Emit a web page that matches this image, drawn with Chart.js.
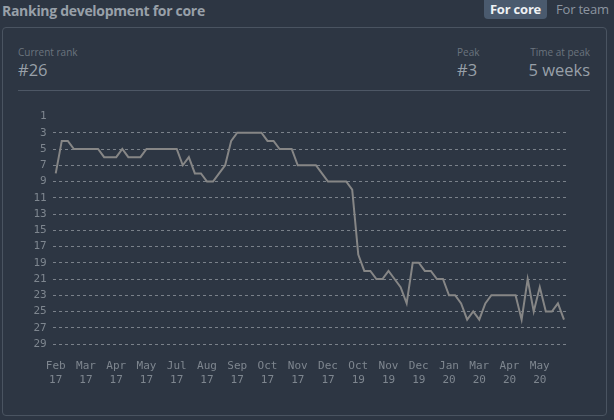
<!DOCTYPE html>
<html>
<head>
<meta charset="utf-8">
<script src="https://cdn.jsdelivr.net/npm/chart.js@4.4.1/dist/chart.umd.min.js"></script>
<style>
  html, body { margin: 0; padding: 0; }
  body {
    width: 614px; height: 420px; overflow: hidden; position: relative;
    background: #2d3643; font-family: "Open Sans", sans-serif;
  }
  .title {
    position: absolute; left: 2px; top: 1px;
    font-size: 14px; font-weight: 700; color: #98a0a9; letter-spacing: -0.3px;
  }
  .tab {
    position: absolute; top: 0; height: 19px; line-height: 19px; font-size: 13px;
  }
  .tab.active {
    left: 484px; width: 63px; text-align: center; background: #4a5a6e;
    border-radius: 0 0 4px 4px; color: #eef1f4; font-weight: 700; letter-spacing: -0.2px;
  }
  .tab.other { left: 556px; color: #8c95a0; letter-spacing: -0.2px; }
  .card {
    position: absolute; left: 2px; top: 27px; width: 603px; height: 387px;
    border: 1px solid #4a5461; border-radius: 4px;
  }
  .stat { position: absolute; top: 45px; }
  .stat .lbl { font-size: 10px; color: #6b747e; line-height: 14px; }
  .stat .val { font-size: 16.5px; color: #98a0a9; line-height: 22px; }
  .sep {
    position: absolute; left: 18px; top: 90px; width: 572px; height: 1px; background: #4d5765;
  }
  #wrap { position: absolute; left: 0; top: 96px; width: 600px; height: 310px; }
</style>
</head>
<body>
<div class="title">Ranking development for core</div>
<div class="tab active">For core</div>
<div class="tab other">For team</div>
<div class="card"></div>
<div class="stat" style="left:18px"><div class="lbl">Current rank</div><div class="val">#26</div></div>
<div class="stat" style="left:457px"><div class="lbl">Peak</div><div class="val">#3</div></div>
<div class="stat" style="right:24px; text-align:right"><div class="lbl">Time at peak</div><div class="val">5 weeks</div></div>
<div class="sep"></div>
<div id="wrap"><canvas id="rankChart"></canvas></div>
<script>
// tick labels shown under every 5th week
const tickMonths = ['Feb', 'Mar', 'Apr', 'May', 'Jul', 'Aug', 'Sep', 'Oct', 'Nov', 'Dec',
  'Oct', 'Nov', 'Dec', 'Jan', 'Mar', 'Apr', 'May'];
const tickYears = ['17', '17', '17', '17', '17', '17', '17', '17', '17', '17',
  '19', '19', '19', '20', '20', '20', '20'];

// weekly rank values
const ranks = [
  8, 4, 4, 5, 5, 5, 5, 5, 6, 6,
  6, 5, 6, 6, 6, 5, 5, 5, 5, 5,
  5, 7, 6, 8, 8, 9, 9, 8, 7, 4,
  3, 3, 3, 3, 3, 4, 4, 5, 5, 5,
  7, 7, 7, 7, 8, 9, 9, 9, 9, 10,
  18, 20, 20, 21, 21, 20, 21, 22, 24, 19,
  19, 20, 20, 21, 21, 23, 23, 24, 26, 25,
  26, 24, 23, 23, 23, 23, 23, 26, 21, 25,
  22, 25, 25, 24, 26
];

const labels = ranks.map((r, i) => i % 5 === 0 ? [tickMonths[i / 5], tickYears[i / 5]] : '');

const tickColor = '#7e868f';
const gridColor = '#7a818a';

new Chart(document.getElementById('rankChart'), {
  type: 'line',
  data: {
    labels: labels,
    datasets: [{
      data: ranks,
      borderColor: '#868686',
      borderWidth: 2,
      pointRadius: 0,
      tension: 0,
      fill: false
    }]
  },
  options: {
    responsive: true,
    maintainAspectRatio: false,
    animation: false,
    layout: { padding: { top: 20.5, right: 33, bottom: 22, left: 0 } },
    plugins: { legend: { display: false }, tooltip: { enabled: false } },
    scales: {
      x: {
        offset: true,
        grid: { display: false, drawTicks: false },
        border: { display: false },
        afterFit: s => { s.height = 40; },
        ticks: {
          autoSkip: false,
          maxRotation: 0,
          padding: 15,
          color: tickColor,
          font: { family: 'DejaVu Sans Mono', size: 11, lineHeight: 1.27 },
          callback: function (v, i) { return labels[i] === '' ? null : labels[i]; }
        }
      },
      y: {
        reverse: true,
        min: 1,
        max: 29,
        afterFit: s => { s.width = 52.7; },
        grid: {
          drawTicks: false,
          lineWidth: 1,
          color: ctx => ctx.tick && ctx.tick.value === 1 ? 'rgba(0,0,0,0)' : gridColor
        },
        border: { display: false, dash: [3, 3] },
        ticks: {
          stepSize: 1,
          padding: 6,
          color: tickColor,
          font: { family: 'DejaVu Sans Mono', size: 11 },
          callback: v => v % 2 === 1 ? String(v) : ''
        }
      }
    }
  }
});
</script>
</body>
</html>
